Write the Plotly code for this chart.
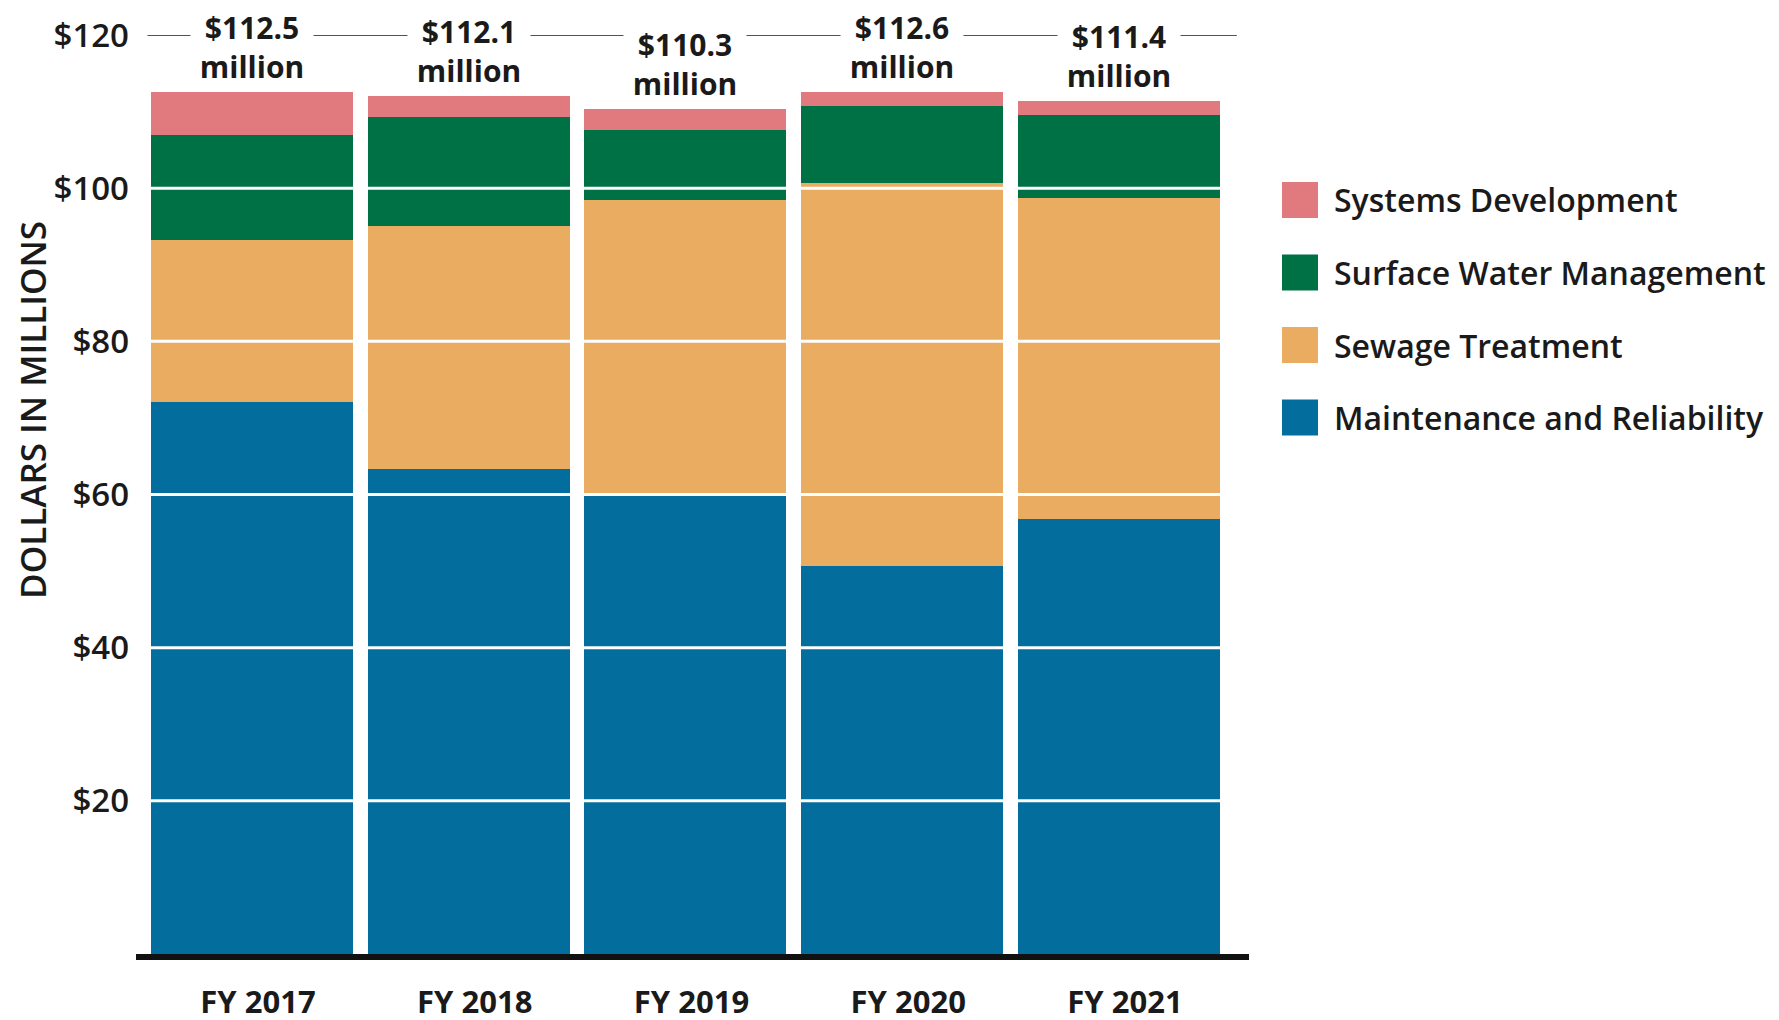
import plotly.graph_objects as go

# ---------------- data ----------------
years = ["FY 2017", "FY 2018", "FY 2019", "FY 2020", "FY 2021"]
maintenance = [72.1, 63.3, 59.9, 50.7, 56.8]
sewage = [21.1, 31.8, 38.6, 50.0, 41.9]
surface_water = [13.7, 14.2, 9.1, 10.0, 10.9]
systems_dev = [5.6, 2.8, 2.7, 1.9, 1.8]

series_names = ["Maintenance and Reliability", "Sewage Treatment",
                "Surface Water Management", "Systems Development"]
series_values = [maintenance, sewage, surface_water, systems_dev]
series_colors = ["#036E9E", "#EAAC60", "#007045", "#E07A7E"]

ytick_vals = [20, 40, 60, 80, 100, 120]
ytick_text = ["$20", "$40", "$60", "$80", "$100", "$120"]
grid_vals = [20, 40, 60, 80, 100]

# ---------------- layout geometry ----------------
# the page body adds an 8px offset; screen targets are compensated here
OFF = 8
W, H = 1779, 1020
L, R, T, B = 136 - OFF, 530 + OFF, 35 - OFF, 66 + OFF
PW, PH = W - L - R, H - T - B
FONT = "Open Sans"
INK = "#1b1a1a"


def px_x(px):
    return (px - OFF - L) / PW


def px_y(py):
    return (H - B - (py - OFF)) / PH


fig = go.Figure()
for name, vals, col in zip(series_names, series_values, series_colors):
    fig.add_trace(go.Bar(x=years, y=vals, name=name, marker_color=col,
                         marker_line_width=0, showlegend=False))

totals = [sum(v) for v in zip(*series_values)]

annotations = []
for yr, tot in zip(years, totals):
    annotations.append(dict(
        x=yr, y=tot, xref="x", yref="y",
        text=f"<b>${tot:.1f}</b><br><b>million</b>",
        showarrow=False, yanchor="middle", yshift=45,
        bgcolor="white", borderpad=0, width=122,
        font=dict(family=FONT, size=30, color=INK, weight=700)))

# y-axis title
annotations.append(dict(
    x=px_x(32), y=px_y(410), xref="paper", yref="paper",
    xanchor="center", yanchor="middle",
    text="DOLLARS IN MILLIONS", textangle=-90, showarrow=False,
    font=dict(family=FONT, size=35, color=INK, weight=600)))

shapes = []
for g in grid_vals:
    shapes.append(dict(type="line", xref="paper", yref="y", x0=0, x1=1,
                       y0=g, y1=g, line=dict(color="white", width=3),
                       layer="above"))
# top reference line at $120
shapes.append(dict(type="line", xref="x", yref="y", x0=-0.482, x1=4.544,
                   y0=120, y1=120, line=dict(color=INK, width=1.5),
                   layer="below"))

# manual legend (top entry first)
row_centers = [200, 272.5, 345, 417.5]
for i, (name, col) in enumerate(zip(series_names[::-1], series_colors[::-1])):
    cy = row_centers[i]
    shapes.append(dict(type="rect", xref="paper", yref="paper",
                       x0=px_x(1282), x1=px_x(1318),
                       y0=px_y(cy + 18), y1=px_y(cy - 18),
                       fillcolor=col, line=dict(width=0)))
    annotations.append(dict(
        x=px_x(1332), y=px_y(cy), xref="paper", yref="paper",
        text=name, showarrow=False, xanchor="left", yanchor="middle",
        font=dict(family=FONT, size=32, color=INK, weight=600)))

fig.update_layout(
    width=W, height=H,
    margin=dict(l=L, r=R, t=T, b=B, autoexpand=False),
    barmode="stack", bargap=0.068,
    plot_bgcolor="white", paper_bgcolor="white",
    font=dict(family=FONT, color=INK),
    annotations=annotations, shapes=shapes,
    showlegend=False,
)
fig.update_xaxes(
    range=[-0.535, 4.60], showgrid=False, zeroline=False,
    showline=True, linewidth=6, linecolor="#111111",
    ticks="", ticklabelstandoff=16, ticklabelshift=6, automargin=False,
    tickfont=dict(family=FONT, size=31, color=INK, weight=700),
)
fig.update_yaxes(
    range=[0, 120], tickvals=ytick_vals, ticktext=ytick_text,
    showgrid=False, zeroline=False, showline=False, ticks="",
    ticklabelstandoff=6, automargin=False,
    tickfont=dict(family=FONT, size=33, color=INK, weight=600),
)

fig.write_html("out.html")
